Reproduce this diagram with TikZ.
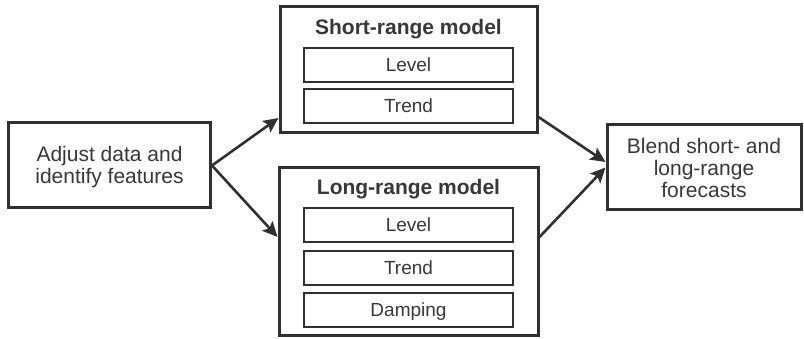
\documentclass[tikz,border=0pt]{standalone}
\usepackage{fontspec}
\setmainfont{Liberation Sans}
\usetikzlibrary{arrows.meta}
\definecolor{ink}{HTML}{303030}
\definecolor{txt}{HTML}{383838}
\begin{document}
\begin{tikzpicture}[x=1pt,y=-1pt,
  box/.style={draw=ink,line width=3pt,fill=white,inner sep=0pt,text=txt,
    font=\fontsize{21}{22}\selectfont,align=center},
  part/.style={draw=ink,line width=2.4pt,inner sep=0pt,minimum width=209pt,
    minimum height=34pt,text=txt,font=\fontsize{19}{22}\selectfont,
    text height=13.6pt,text depth=0pt},
  title/.style={text=txt,font=\bfseries\fontsize{21}{22}\selectfont,anchor=base,inner sep=0pt},
  arr/.style={draw=ink,line width=2.6pt,-{Stealth[length=15pt,width=14pt,inset=3pt]}}]
\useasboundingbox (0,0) rectangle (804,339);
\fill[white] (0,0) rectangle (804,339);
% left box
\node[box,minimum width=202pt,minimum height=85pt,text height=37pt,text depth=0pt] (adj) at (109.5,165.5) {Adjust data and\\identify features};
% short-range
\node[box,minimum width=257pt,minimum height=126pt] (short) at (408.5,70) {};
\node[title] (stitle) at (408.5,34.3) {Short-range model};
\node[part] (slevel) at (408.5,65) {Level};
\node[part] (strend) at (408.5,106) {Trend};
% long-range
\node[box,minimum width=259pt,minimum height=168pt] (long) at (408.5,252) {};
\node[title] (ltitle) at (408.5,195) {Long-range model};
\node[part] (llevel) at (408.5,225) {Level};
\node[part] (ltrend) at (408.5,268) {Trend};
\node[part] (ldamp) at (408.5,310) {Damping};
% right box
\node[box,minimum width=194pt,minimum height=85pt,text height=60pt,text depth=0pt] (blend) at (704,167.5) {Blend short- and\\long-range\\forecasts};
% connector ends
\coordinate (sIn) at (short.west |- 0,118);
\coordinate (lIn) at (long.west |- 0,237);
\coordinate (sOut) at (short.east |- 0,117);
\coordinate (lOut) at (long.east |- 0,237);
\coordinate (bIn) at (blend.west |- 0,162);
\draw[arr] (adj.east) -- (sIn);
\draw[arr] (adj.east) -- (lIn);
\draw[arr] (sOut) -- (bIn);
\draw[arr] (lOut) -- (blend.west);
\end{tikzpicture}
\end{document}
